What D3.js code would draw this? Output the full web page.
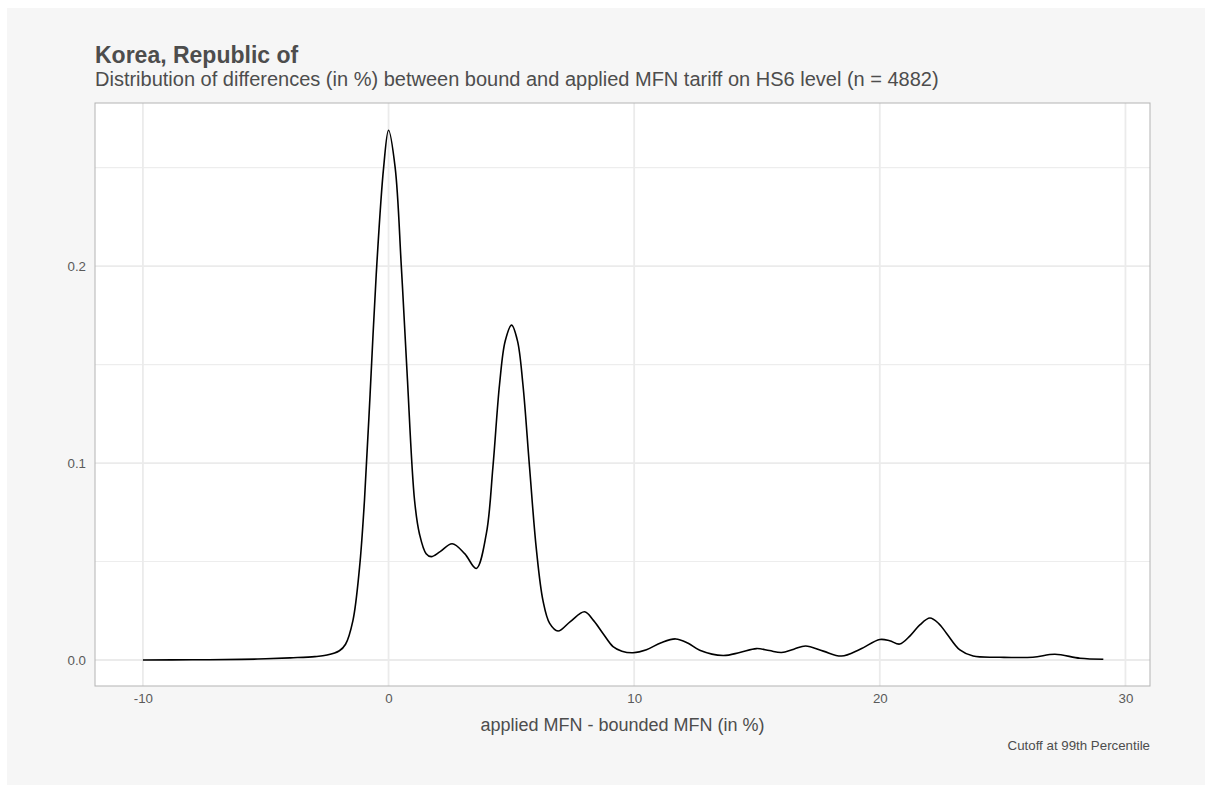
<!DOCTYPE html>
<html>
<head>
<meta charset="utf-8">
<script src="https://cdn.jsdelivr.net/npm/d3@7"></script>
<style>
  html, body { margin: 0; padding: 0; background: #ffffff; }
  svg { display: block; }
  text { font-family: "Liberation Sans", Arial, Helvetica, sans-serif; }
</style>
</head>
<body>
<svg id="chart" width="1205" height="785"></svg>
<script>
// ---- data ----
const xValues = [-10, -8, -6, -5, -4, -3, -2.5, -2.0, -1.75, -1.45, -1.18, -0.98, -0.75, -0.5, -0.2, 0.0,
  0.27, 0.52, 0.75, 1.06, 1.26, 1.53, 1.74, 2.1, 2.59, 3.1, 3.57, 3.98, 4.25, 4.52, 4.75, 5.01,
  5.25, 5.47, 5.74, 6.02, 6.29, 6.56, 6.90, 7.4, 7.98, 8.35, 8.73, 9.14, 9.5, 9.95, 10.5, 11.1, 11.69,
  12.2, 12.67, 13.62, 14.3, 14.98, 15.5, 16.0, 16.5, 16.98, 17.7, 18.44, 19.2, 20.0, 20.4, 20.81, 21.25,
  21.63, 22.04, 22.4, 22.72, 23.26, 23.8, 24.89, 26.23, 27.13, 28.15, 29.1];
const densityValues = [0.0000, 0.0001, 0.0003, 0.0006, 0.0011, 0.0017, 0.0025, 0.0047, 0.008, 0.020, 0.047, 0.081, 0.135, 0.196, 0.250, 0.269,
  0.250, 0.200, 0.147, 0.081, 0.064, 0.054, 0.0525, 0.055, 0.059, 0.0540, 0.0465, 0.064, 0.098, 0.140, 0.162, 0.170,
  0.162, 0.140, 0.098, 0.056, 0.030, 0.0186, 0.0147, 0.0195, 0.0245, 0.020, 0.0135, 0.0068, 0.0045, 0.0037, 0.0052, 0.0088, 0.0107,
  0.0085, 0.0050, 0.0023, 0.0038, 0.0058, 0.0048, 0.0038, 0.0055, 0.0071, 0.0045, 0.0020, 0.0055, 0.0104, 0.0098, 0.0081, 0.0125,
  0.0178, 0.0213, 0.0185, 0.0135, 0.0051, 0.0020, 0.0014, 0.0014, 0.0029, 0.0009, 0.0004];
const xTicks = [-10, 0, 10, 20, 30];
const yTicks = [0.0, 0.1, 0.2];
const yMinorTicks = [0.05, 0.15, 0.25];
const titleText = "Korea, Republic of";
const subtitleText = "Distribution of differences (in %) between bound and applied MFN tariff on HS6 level (n = 4882)";
const xAxisTitle = "applied MFN - bounded MFN (in %)";
const captionText = "Cutoff at 99th Percentile";

const data = xValues.map((x, i) => ({ x: x, y: densityValues[i] }));

// ---- layout ----
const W = 1205, H = 785;
const panel = { left: 95, right: 1150, top: 103, bottom: 686 };

const svg = d3.select("#chart");

// outer background
svg.append("rect").attr("x", 0).attr("y", 0).attr("width", W).attr("height", H).attr("fill", "#ffffff");
svg.append("rect").attr("x", 7).attr("y", 8).attr("width", W - 7).attr("height", H - 8).attr("fill", "#f6f6f6");

const x = d3.scaleLinear().domain([-11.95, 31.0]).range([panel.left, panel.right]);
const y = d3.scaleLinear().domain([-0.0132, 0.2828]).range([panel.bottom, panel.top]);

// panel background
svg.append("rect")
  .attr("x", panel.left).attr("y", panel.top)
  .attr("width", panel.right - panel.left).attr("height", panel.bottom - panel.top)
  .attr("fill", "#ffffff");

// minor grid (horizontal only)
svg.append("g").selectAll("line").data(yMinorTicks).join("line")
  .attr("x1", panel.left).attr("x2", panel.right)
  .attr("y1", d => y(d)).attr("y2", d => y(d))
  .attr("stroke", "#ededed").attr("stroke-width", 1.2);

// major grid
svg.append("g").selectAll("line").data(yTicks).join("line")
  .attr("x1", panel.left).attr("x2", panel.right)
  .attr("y1", d => y(d)).attr("y2", d => y(d))
  .attr("stroke", "#ebebeb").attr("stroke-width", 1.8);
svg.append("g").selectAll("line").data(xTicks).join("line")
  .attr("y1", panel.top).attr("y2", panel.bottom)
  .attr("x1", d => x(d)).attr("x2", d => x(d))
  .attr("stroke", "#ebebeb").attr("stroke-width", 1.8);

// density line
const line = d3.line().x(d => x(d.x)).y(d => y(d.y)).curve(d3.curveCatmullRom.alpha(0.5));
svg.append("path").datum(data)
  .attr("d", line)
  .attr("fill", "none")
  .attr("stroke", "#000000")
  .attr("stroke-width", 1.6)
  .attr("stroke-linejoin", "round");

// panel border
svg.append("rect")
  .attr("x", panel.left).attr("y", panel.top)
  .attr("width", panel.right - panel.left).attr("height", panel.bottom - panel.top)
  .attr("fill", "none").attr("stroke", "#b3b3b3").attr("stroke-width", 1);

// x axis tick labels (plain hyphen for negatives)
const xAxis = d3.axisBottom(x).tickValues(xTicks).tickSize(0).tickPadding(0).tickFormat(d => String(d));
const gx = svg.append("g").attr("transform", `translate(0, ${panel.bottom})`).call(xAxis);
gx.select(".domain").remove();
gx.selectAll("text")
  .attr("y", 17).attr("dy", null)
  .attr("fill", "#5a5a5a").attr("font-size", "13.3px")
  .style("font-family", "'Liberation Sans', Arial, sans-serif");

// y axis tick labels
const yAxis = d3.axisLeft(y).tickValues(yTicks).tickSize(0).tickPadding(9).tickFormat(d => d.toFixed(1));
const gy = svg.append("g").attr("transform", `translate(${panel.left}, 0)`).call(yAxis);
gy.select(".domain").remove();
gy.selectAll("text")
  .attr("fill", "#5a5a5a").attr("font-size", "13.3px")
  .style("font-family", "'Liberation Sans', Arial, sans-serif");

// titles
svg.append("text").attr("x", 95).attr("y", 63)
  .attr("font-size", "23px").attr("font-weight", "bold").attr("fill", "#4d4d4d")
  .text(titleText);
svg.append("text").attr("x", 95).attr("y", 86)
  .attr("font-size", "20px").attr("fill", "#4d4d4d")
  .text(subtitleText);
svg.append("text").attr("x", (panel.left + panel.right) / 2).attr("y", 731)
  .attr("text-anchor", "middle")
  .attr("font-size", "18px").attr("fill", "#4d4d4d")
  .text(xAxisTitle);
svg.append("text").attr("x", panel.right).attr("y", 750)
  .attr("text-anchor", "end")
  .attr("font-size", "13.3px").attr("fill", "#4d4d4d")
  .text(captionText);
</script>
</body>
</html>
